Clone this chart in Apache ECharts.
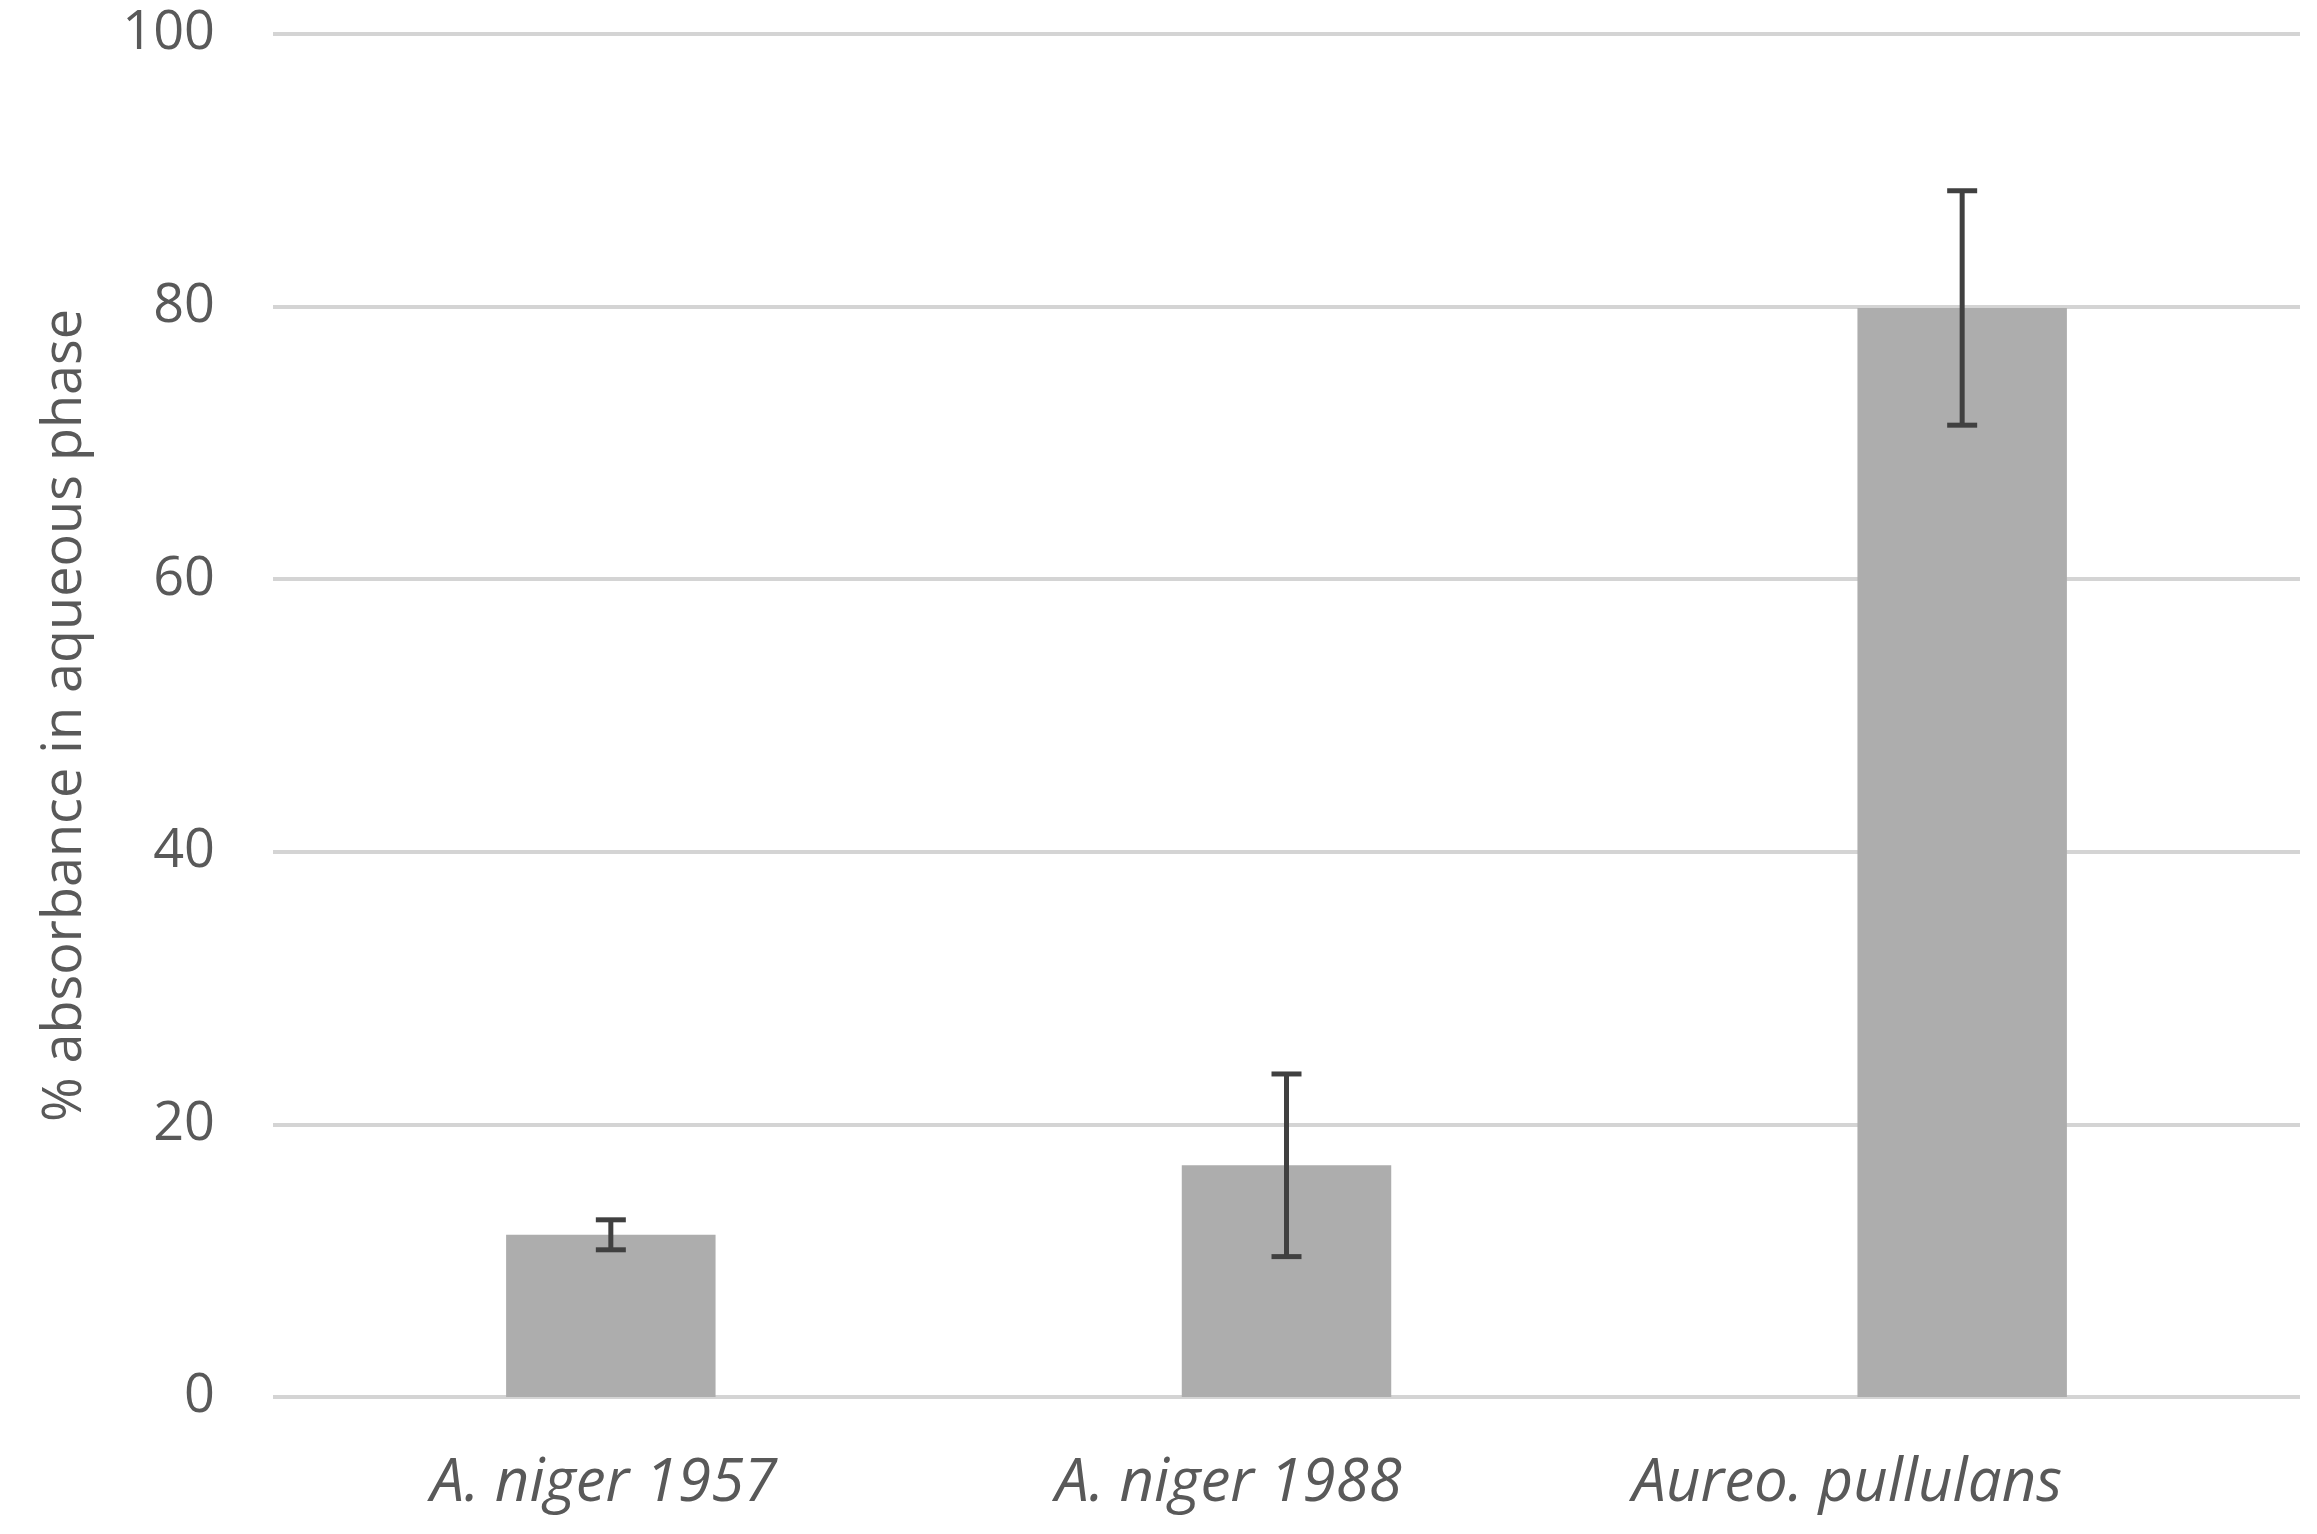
<!DOCTYPE html>
<html>
<head>
<meta charset="utf-8">
<script src="https://cdn.jsdelivr.net/npm/echarts@6/dist/echarts.min.js"></script>
<style>
html,body{margin:0;padding:0;background:#fff;}
#chart{width:2317px;height:1534px;}
</style>
</head>
<body>
<div id="chart"></div>
<script>
const categories = ['A. niger 1957', 'A. niger 1988', 'Aureo. pullulans'];
const means = [11.9, 17.0, 79.9];
const errors = [1.1, 6.7, 8.6];
const yTicks = [0, 20, 40, 60, 80, 100];

// label styling (leftward shift of each category label, px) — as in the reference
const labelShift = [7, 58, 115];

const errData = categories.map((c, i) => [i, means[i] - errors[i], means[i] + errors[i]]);
const xData = categories.map((c, i) => ({ value: c, textStyle: { padding: [0, 2 * labelShift[i], 0, 0] } }));

const chart = echarts.init(document.getElementById('chart'));
const font = '"Open Sans", "Noto Sans", sans-serif';
chart.setOption({
  animation: false,
  backgroundColor: '#ffffff',
  grid: { left: 273, right: 17, top: 34, bottom: 137, containLabel: false },
  xAxis: {
    type: 'category',
    data: xData,
    axisLine: { show: false },
    axisTick: { show: false },
    axisLabel: { fontFamily: font, fontStyle: 'italic', fontSize: 60, color: '#595959', margin: 57 }
  },
  yAxis: {
    type: 'value',
    min: yTicks[0], max: yTicks[yTicks.length - 1], interval: 20,
    name: '% absorbance in aqueous phase',
    nameLocation: 'middle',
    nameGap: 180,
    nameTextStyle: { fontFamily: font, fontSize: 54, color: '#595959' },
    axisLine: { show: false },
    axisTick: { show: false },
    axisLabel: { fontFamily: font, fontSize: 54, color: '#595959', margin: 58 },
    splitLine: { lineStyle: { color: '#d4d4d4', width: 4 } }
  },
  series: [
    {
      type: 'bar',
      data: means,
      barWidth: '31%',
      itemStyle: { color: '#adadad' }
    },
    {
      type: 'custom',
      data: errData,
      z: 10,
      renderItem: function (params, api) {
        const x = api.value(0);
        const pLo = api.coord([x, api.value(1)]);
        const pHi = api.coord([x, api.value(2)]);
        const half = 15;
        const st = { stroke: '#404040', lineWidth: 5 };
        return {
          type: 'group',
          children: [
            { type: 'line', shape: { x1: pHi[0], y1: pHi[1], x2: pLo[0], y2: pLo[1] }, style: st },
            { type: 'line', shape: { x1: pHi[0] - half, y1: pHi[1], x2: pHi[0] + half, y2: pHi[1] }, style: st },
            { type: 'line', shape: { x1: pLo[0] - half, y1: pLo[1], x2: pLo[0] + half, y2: pLo[1] }, style: st }
          ]
        };
      }
    }
  ]
});
</script>
</body>
</html>
